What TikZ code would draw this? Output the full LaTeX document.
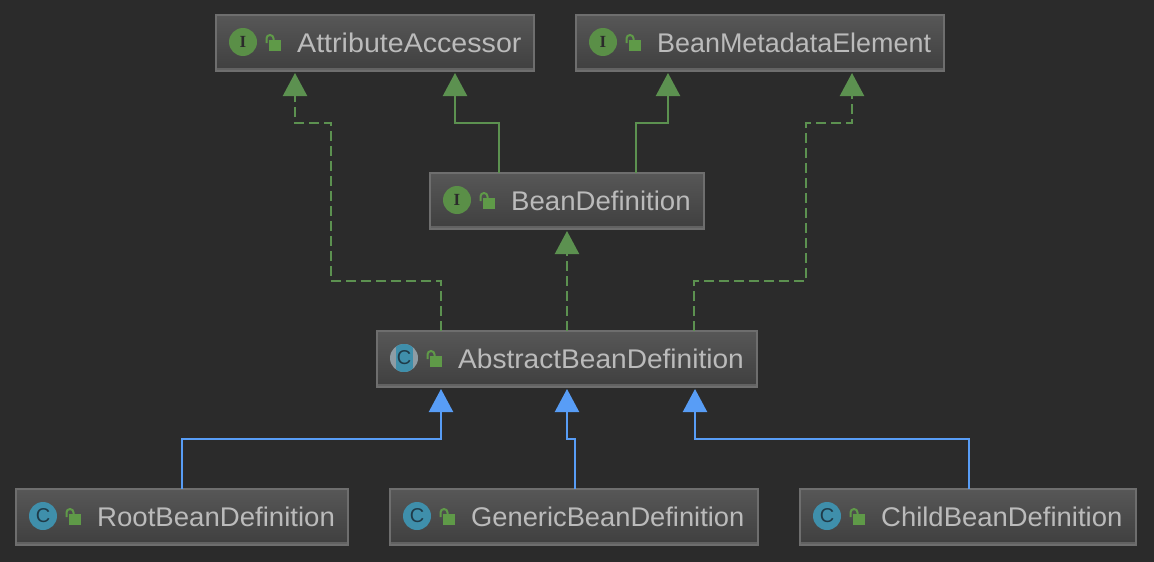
\documentclass[tikz,border=0pt]{standalone}
\usepackage{fontspec}
\setmainfont{Liberation Sans}
\usetikzlibrary{arrows.meta,calc}
\definecolor{bg}{HTML}{2B2B2B}
\definecolor{boxtop}{HTML}{575757}
\definecolor{boxbot}{HTML}{3F3F3F}
\definecolor{boxline}{HTML}{6E6E6E}
\definecolor{labeltext}{HTML}{BBBBBB}
\definecolor{igreen}{HTML}{5A8F47}
\definecolor{cblue}{HTML}{3F8FAB}
\definecolor{cgrey}{HTML}{8E9CA4}
\definecolor{cletter}{HTML}{1F3A48}
\definecolor{lockgreen}{HTML}{5F9A48}
\definecolor{arrowgreen}{HTML}{5C9150}
\definecolor{arrowblue}{HTML}{589DF6}
\tikzset{
  classbox/.style={draw=boxline,line width=2pt,outer sep=0pt,top color=boxtop,bottom color=boxbot,minimum height=56pt,inner sep=0pt,anchor=north west},
  classname/.style={text=labeltext,font=\fontsize{27}{27}\selectfont,anchor=base west,inner sep=0pt},
  iconletter/.style={text=bg,inner sep=0pt},
  realize/.style={arrowgreen,line width=2.2pt,shorten >=2pt,dash pattern=on 10pt off 5pt,-{Triangle[length=23pt,width=24pt,fill=arrowgreen]}},
  extendgreen/.style={arrowgreen,line width=2.2pt,shorten >=2pt,-{Triangle[length=23pt,width=24pt,fill=arrowgreen]}},
  extendblue/.style={arrowblue,line width=2.2pt,shorten >=2pt,-{Triangle[length=23pt,width=24pt,fill=arrowblue]}},
}
\newcommand{\lockicon}[2]{%
  \fill[lockgreen] (#1+52.5,#2+24.5) rectangle (#1+65,#2+35.5);
  \draw[lockgreen,line width=2pt] (#1+50.5,#2+28) -- (#1+50.5,#2+23.5) arc[start angle=180,end angle=0,radius=3.5pt] -- (#1+57.5,#2+25);
}
% name, left, top, width, text, horizontal text scale
\newcommand{\umlbox}[6]{%
  \node[classbox,minimum width=#4pt] (#1) at (#2,#3) {};
  \draw[boxline!75!boxbot,line width=1.5pt] (#2+1,#3+54.2) -- (#2+#4-1,#3+54.2);
  \lockicon{#2}{#3}
  \node[classname] (#1-label) at (#2+81,#3+37) {\scalebox{#6}[1]{#5}};
}
\newcommand{\ibadge}[3]{%
  \fill[igreen] (#2+27,#3+27) circle[radius=14pt];
  \node[iconletter,font=\fontsize{17}{17}\selectfont\fontspec{Liberation Serif}\bfseries] (#1-icon) at (#2+27,#3+27) {I};
}
\newcommand{\cbadge}[3]{%
  \fill[cblue] (#2+27,#3+27) circle[radius=14pt];
  \node[iconletter,text=cletter,font=\fontsize{20}{20}\selectfont] (#1-icon) at (#2+27,#3+27) {C};
}
\begin{document}
\begin{tikzpicture}[x=1pt,y=-1pt]
\useasboundingbox (0,0) rectangle (1154,562);
\fill[bg] (0,0) rectangle (1154,562);

\umlbox{aa}{216}{15}{318}{AttributeAccessor}{1.06}
\umlbox{bme}{576}{15}{368}{BeanMetadataElement}{0.997}
\umlbox{bd}{430}{173}{274}{BeanDefinition}{1.022}
\umlbox{abd}{377}{331}{380}{AbstractBeanDefinition}{1.04}
\umlbox{rbd}{16}{489}{332}{RootBeanDefinition}{1.022}
\umlbox{gbd}{390}{489}{368}{GenericBeanDefinition}{1.011}
\umlbox{cbd}{800}{489}{336}{ChildBeanDefinition}{1.017}
\ibadge{aa}{216}{15}
\ibadge{bme}{576}{15}
\ibadge{bd}{430}{173}
\cbadge{rbd}{16}{489}
\cbadge{gbd}{390}{489}
\cbadge{cbd}{800}{489}
% abstract badge
\begin{scope}
  \clip (404,358) circle[radius=14pt];
  \fill[cgrey] (390,344) rectangle (418,372);
  \fill[cblue] (395.5,344) rectangle (412.5,372);
\end{scope}
\node[iconletter,text=cletter,font=\fontsize{20}{20}\selectfont] (abd-icon) at (404,358) {C};

% connectors
\draw[realize] (abd.north -| 441,0) -- (441,281) -- (331,281) -- (331,123) -- (295,123) -- (aa.south -| 295,0);
\draw[extendgreen] (bd.north -| 499,0) -- (499,123) -- (455,123) -- (aa.south -| 455,0);
\draw[extendgreen] (bd.north -| 636,0) -- (636,123) -- (668,123) -- (bme.south -| 668,0);
\draw[realize] (abd.north -| 694,0) -- (694,281) -- (806,281) -- (806,123) -- (852,123) -- (bme.south -| 852,0);
\draw[realize] (abd.north -| 567,0) -- (bd.south -| 567,0);
\draw[extendblue] (rbd.north -| 182,0) -- (182,439) -- (441,439) -- (abd.south -| 441,0);
\draw[extendblue] (gbd.north -| 575,0) -- (575,439) -- (567,439) -- (abd.south -| 567,0);
\draw[extendblue] (cbd.north -| 969,0) -- (969,439) -- (695,439) -- (abd.south -| 695,0);
\end{tikzpicture}
\end{document}
